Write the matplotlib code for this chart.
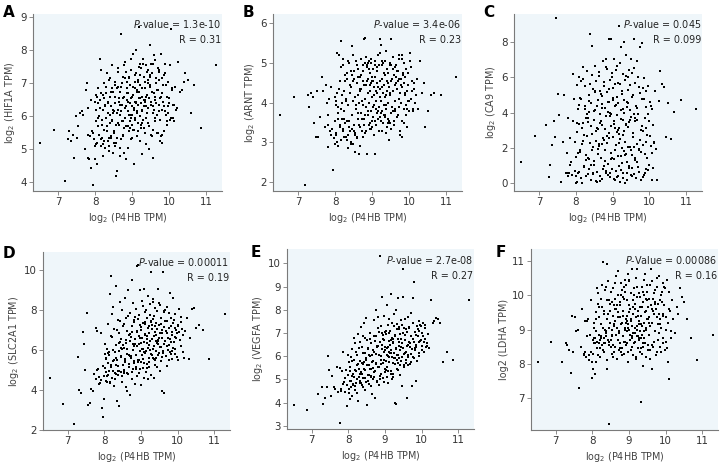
import matplotlib
matplotlib.use("Agg")
import matplotlib.pyplot as plt

# Shared x values: log2(P4HB TPM)
x_p4hb = [
    6.52, 6.88, 7.18, 7.27, 7.30, 7.35, 7.40, 7.44, 7.47, 7.52,
    7.55, 7.60, 7.64, 7.68, 7.72, 7.76, 7.78, 7.80, 7.82, 7.85,
    7.88, 7.90, 7.93, 7.95, 7.97, 7.99, 8.00, 8.01, 8.02, 8.03,
    8.04, 8.05, 8.06, 8.08, 8.09, 8.10, 8.12, 8.13, 8.15, 8.16,
    8.18, 8.19, 8.20, 8.21, 8.23, 8.24, 8.25, 8.27, 8.28, 8.30,
    8.31, 8.32, 8.34, 8.35, 8.36, 8.38, 8.39, 8.40, 8.41, 8.43,
    8.44, 8.45, 8.46, 8.48, 8.49, 8.50, 8.51, 8.53, 8.54, 8.55,
    8.56, 8.58, 8.59, 8.60, 8.61, 8.62, 8.64, 8.65, 8.66, 8.68,
    8.69, 8.70, 8.71, 8.72, 8.74, 8.75, 8.76, 8.77, 8.78, 8.80,
    8.81, 8.82, 8.83, 8.84, 8.85, 8.86, 8.88, 8.89, 8.90, 8.91,
    8.92, 8.93, 8.94, 8.95, 8.96, 8.97, 8.98, 8.99, 9.00, 9.01,
    9.02, 9.03, 9.04, 9.05, 9.06, 9.07, 9.08, 9.09, 9.10, 9.11,
    9.12, 9.13, 9.14, 9.15, 9.16, 9.17, 9.18, 9.19, 9.20, 9.21,
    9.22, 9.23, 9.24, 9.25, 9.26, 9.27, 9.28, 9.29, 9.30, 9.31,
    9.32, 9.33, 9.34, 9.35, 9.36, 9.37, 9.38, 9.39, 9.40, 9.41,
    9.42, 9.43, 9.44, 9.45, 9.46, 9.48, 9.49, 9.50, 9.51, 9.52,
    9.54, 9.55, 9.56, 9.57, 9.58, 9.60, 9.61, 9.62, 9.63, 9.65,
    9.66, 9.67, 9.69, 9.70, 9.72, 9.73, 9.75, 9.76, 9.78, 9.79,
    9.81, 9.82, 9.84, 9.85, 9.87, 9.88, 9.90, 9.92, 9.94, 9.96,
    9.98, 10.00, 10.02, 10.04, 10.06, 10.08, 10.10, 10.12, 10.15, 10.18,
    10.21, 10.25, 10.30, 10.35, 10.40, 10.44, 10.50, 10.58, 10.68, 10.85,
    11.28,
    8.105, 8.125, 8.145, 8.165, 8.185, 8.205, 8.225, 8.245, 8.265, 8.285,
    8.305, 8.325, 8.345, 8.365, 8.385, 8.405, 8.425, 8.445, 8.465, 8.485,
    8.505, 8.525, 8.545, 8.565, 8.585, 8.605, 8.625, 8.645, 8.665, 8.685,
    8.705, 8.725, 8.745, 8.765, 8.785, 8.805, 8.825, 8.845, 8.865, 8.885,
    8.895, 8.915, 8.935, 8.955, 8.975, 8.995, 9.005, 9.025, 9.045, 9.065,
    9.075, 9.095, 9.115, 9.135, 9.155, 9.175, 9.185, 9.205, 9.225, 9.245,
    9.255, 9.275, 9.295, 9.315, 9.335, 9.355, 9.365, 9.385, 9.405, 9.425,
    9.435, 9.455, 9.475, 9.495, 9.515, 9.535, 9.555, 9.575, 9.595, 9.615,
    9.635, 9.655, 9.675, 9.695, 9.715, 9.735, 9.755, 9.775, 9.795, 9.815,
    9.835, 9.855, 9.875, 9.895, 9.915, 9.935, 9.955, 9.975, 10.005, 10.035,
    8.005, 8.035, 8.065, 8.085, 7.915, 7.845, 7.795, 10.065, 10.095, 10.135,
    8.32, 8.42, 8.52, 8.62, 8.72, 8.82, 8.92, 9.02, 9.12, 9.22,
    9.32, 9.42, 9.52, 9.62, 9.72, 9.82, 9.92, 8.37, 8.47, 8.57,
    8.67, 8.77, 8.87, 8.97, 9.07, 9.17, 9.27, 9.37, 9.47, 9.57,
]

y_hif1a = [
    5.20, 5.60, 4.05, 5.30, 5.55, 5.25, 5.45, 4.75, 6.00, 5.35,
    5.70, 6.10, 6.15, 6.05, 5.00, 6.80, 7.00, 4.75, 5.45, 5.40,
    4.45, 6.50, 5.50, 3.92, 5.30, 4.70, 6.45, 6.65, 5.15, 5.85,
    6.60, 5.20, 4.55, 6.85, 5.95, 5.45, 7.75, 6.25, 5.10, 6.70,
    5.90, 5.35, 6.20, 5.15, 6.55, 7.00, 5.60, 6.35, 5.05, 6.90,
    5.70, 7.30, 6.10, 5.25, 6.45, 4.95, 5.80, 7.15, 6.60, 5.40,
    6.30, 7.55, 5.90, 4.90, 6.75, 6.15, 5.55, 7.05, 5.10, 6.40,
    4.20, 6.85, 4.35, 5.35, 6.20, 7.45, 5.75, 6.55, 4.80, 6.05,
    8.50, 5.30, 6.90, 6.35, 5.85, 7.20, 5.45, 6.60, 4.90, 7.65,
    6.25, 5.95, 7.35, 5.70, 6.50, 7.05, 5.05, 6.70, 6.15, 5.55,
    7.15, 6.40, 5.85, 6.95, 5.30, 6.55, 7.40, 6.05, 5.75, 6.30,
    6.65, 7.90, 5.60, 6.20, 4.55, 6.85, 5.95, 7.25, 6.45, 8.00,
    6.10, 5.40, 6.75, 7.10, 5.80, 6.35, 8.70, 6.55, 5.25, 7.60,
    6.95, 5.65, 6.40, 7.45, 6.15, 4.85, 6.60, 7.75, 5.90, 6.50,
    6.30, 7.20, 5.50, 6.85, 6.45, 7.55, 5.15, 6.10, 7.35, 6.65,
    5.80, 6.25, 7.00, 5.00, 6.55, 8.15, 6.95, 6.35, 5.45, 7.60,
    6.75, 7.30, 5.60, 4.75, 6.20, 7.85, 6.50, 7.70, 5.95, 7.15,
    6.05, 6.80, 7.45, 5.50, 6.35, 7.10, 5.90, 6.55, 5.40, 7.90,
    6.70, 5.20, 6.45, 7.25, 5.55, 7.60, 6.15, 6.95, 5.85, 6.30,
    6.10, 6.55, 7.55, 5.95, 8.65, 6.85, 6.35, 5.85, 6.90, 6.20,
    6.25, 7.65, 6.75, 6.80, 7.05, 7.30, 7.10, 6.10, 6.95, 5.65,
    7.55,
    6.00, 6.50, 5.30, 7.40, 5.75, 6.65, 4.80, 5.25, 6.30, 5.95,
    6.70, 5.55, 6.40, 5.10, 7.10, 6.05, 5.35, 6.85, 5.85, 6.20,
    5.50, 6.60, 6.95, 5.20, 6.10, 7.35, 5.80, 6.45, 5.05, 6.75,
    6.15, 7.00, 5.40, 6.55, 7.55, 5.95, 6.30, 4.70, 6.85, 5.70,
    6.45, 7.20, 5.65, 6.05, 7.75, 6.60, 5.35, 6.90, 6.25, 7.05,
    5.90, 6.40, 7.30, 6.15, 5.55, 6.75, 7.50, 6.00, 6.55, 5.75,
    6.85, 6.20, 7.60, 5.65, 6.50, 7.05, 6.30, 5.95, 6.65, 7.40,
    6.25, 5.70, 6.90, 7.25, 6.45, 5.40, 7.60, 6.10, 6.70, 5.85,
    7.00, 6.40, 5.50, 6.80, 7.40, 6.15, 5.25, 6.60, 7.15, 5.45,
    6.95, 6.30, 5.55, 7.30, 6.05, 5.75, 6.60, 7.05, 6.40, 5.90,
    5.10, 6.20, 5.70, 6.40, 5.55, 4.70, 6.25, 6.80, 5.95, 6.35,
    5.55, 6.75, 5.20, 6.90, 5.85, 7.15, 6.05, 5.60, 6.80, 7.25,
    6.50, 7.10, 5.45, 6.60, 7.35, 6.20, 6.95, 5.35, 6.10, 5.75,
    6.35, 5.65, 6.70, 5.95, 6.45, 7.05, 5.80, 6.60, 7.20, 6.30,
]

y_arnt = [
    3.70, 4.15, 1.92, 4.20, 3.90, 4.25, 4.15, 3.50, 3.15, 4.30,
    3.15, 3.65, 4.65, 4.30, 3.40, 4.45, 4.00, 2.88, 3.70, 3.30,
    3.20, 4.40, 2.32, 2.30, 3.10, 3.55, 2.95, 3.95, 3.25, 4.05,
    3.00, 4.25, 5.25, 2.92, 3.75, 5.20, 3.45, 4.55, 3.85, 5.55,
    3.60, 4.00, 3.35, 4.95, 3.15, 4.30, 3.80, 4.70, 3.50, 4.10,
    3.05, 4.60, 2.85, 3.95, 5.05, 3.55, 4.25, 3.30, 4.45, 3.00,
    4.40, 3.70, 5.42, 2.95, 4.05, 3.45, 4.80, 3.20, 4.15, 2.75,
    3.85, 4.50, 3.15, 4.95, 3.60, 4.20, 2.72, 4.00, 3.40, 4.65,
    3.75, 4.35, 5.10, 3.30, 4.80, 3.95, 4.55, 3.45, 5.60, 4.10,
    5.62, 3.25, 4.45, 3.90, 4.95, 2.70, 4.25, 3.70, 4.60, 5.05,
    4.00, 3.50, 4.75, 4.30, 3.80, 5.00, 4.50, 3.40, 4.15, 4.55,
    3.65, 4.85, 4.20, 3.95, 4.40, 2.70, 3.55, 4.65, 4.05, 3.85,
    4.50, 3.75, 4.25, 5.20, 3.60, 4.40, 4.95, 3.90, 5.60, 4.15,
    4.35, 3.55, 5.45, 4.05, 3.80, 4.60, 3.30, 4.25, 5.00, 3.70,
    4.45, 3.95, 4.70, 3.65, 4.15, 5.30, 3.85, 4.55, 3.40, 4.30,
    4.00, 4.75, 3.60, 4.40, 3.05, 4.20, 4.95, 5.60, 3.75, 4.55,
    4.60, 3.90, 4.30, 5.15, 3.55, 4.70, 4.05, 3.80, 4.45, 4.65,
    4.35, 4.80, 3.70, 4.55, 4.10, 5.20, 3.20, 4.25, 4.60, 4.00,
    3.15, 4.40, 4.75, 3.85, 4.50, 4.20, 4.65, 3.95, 4.30, 4.05,
    4.45, 3.80, 5.25, 4.10, 4.90, 4.55, 3.85, 4.35, 4.00, 4.20,
    4.60, 3.85, 5.05, 4.25, 4.50, 3.40, 3.80, 4.20, 4.25, 4.20,
    4.65,
    4.35, 3.40, 4.90, 3.05, 4.20, 3.30, 5.10, 3.60, 4.55, 3.15,
    4.05, 4.75, 3.20, 5.00, 3.55, 4.45, 2.95, 4.70, 3.35, 5.20,
    4.60, 3.25, 4.15, 5.05, 3.10, 3.75, 4.85, 3.45, 4.35, 2.90,
    4.70, 3.60, 4.95, 3.15, 4.45, 3.70, 5.15, 3.30, 4.55, 5.00,
    3.80, 4.85, 3.35, 4.45, 5.10, 3.55, 4.65, 3.90, 3.20, 4.95,
    5.05, 3.45, 4.30, 4.80, 3.60, 4.95, 3.30, 4.55, 5.25, 3.75,
    4.40, 4.95, 3.50, 4.75, 3.70, 5.05, 3.95, 3.25, 4.85, 4.50,
    4.75, 3.55, 5.00, 4.25, 3.35, 4.60, 5.15, 3.80, 3.45, 4.90,
    4.50, 4.95, 3.65, 4.80, 3.90, 5.10, 3.30, 4.45, 5.20, 3.55,
    4.70, 5.00, 3.50, 4.25, 4.85, 3.85, 3.40, 4.75, 4.05, 5.05,
    4.15, 3.20, 3.60, 3.90, 3.35, 4.10, 3.45, 4.30, 3.80, 4.50,
    3.55, 4.80, 3.30, 4.65, 4.05, 5.00, 3.45, 4.55, 4.90, 3.65,
    4.75, 3.50, 4.95, 3.85, 4.60, 5.10, 3.70, 3.40, 4.55, 3.95,
    4.30, 3.60, 4.90, 3.35, 4.65, 3.80, 5.05, 4.20, 3.50, 4.85,
]

y_ca9 = [
    1.20, 2.65, 3.30, 0.35, 1.00, 2.15, 3.50, 2.60, 9.40, 5.05,
    3.85, 0.05, 2.35, 5.00, 0.55, 1.70, 3.70, 0.40, 0.55, 2.55,
    1.20, 0.45, 6.20, 4.80, 2.35, 0.70, 0.00, 1.50, 3.40, 5.55,
    0.05, 0.60, 4.20, 6.05, 0.65, 3.35, 1.85, 4.80, 5.80, 2.20,
    0.00, 3.40, 6.60, 0.90, 2.75, 4.35, 5.50, 1.30, 0.40, 3.95,
    6.35, 1.45, 3.70, 0.80, 5.00, 2.25, 8.45, 0.20, 4.55, 1.90,
    7.80, 2.80, 5.35, 0.55, 3.60, 1.25, 6.65, 4.15, 0.10, 2.40,
    5.80, 0.05, 3.05, 4.70, 1.65, 6.10, 2.10, 0.40, 5.20, 3.55,
    1.40, 4.95, 0.25, 3.30, 6.95, 2.55, 0.95, 5.50, 4.25, 1.85,
    7.05, 3.80, 0.60, 5.15, 2.30, 6.50, 1.10, 4.60, 8.20, 2.85,
    0.35, 4.00, 5.85, 1.70, 3.25, 8.20, 0.80, 6.05, 2.60, 4.85,
    5.40, 1.35, 3.50, 7.05, 0.15, 4.40, 2.15, 6.40, 0.70, 3.85,
    2.90, 6.65, 0.40, 4.55, 1.55, 8.90, 3.15, 0.05, 5.60, 2.50,
    4.15, 0.75, 7.70, 2.00, 5.05, 3.60, 0.30, 6.20, 1.80, 4.70,
    8.00, 2.35, 0.00, 5.85, 3.35, 7.30, 1.20, 4.30, 0.55, 6.00,
    3.20, 5.30, 0.85, 6.40, 2.05, 4.15, 0.45, 7.05, 3.75, 1.60,
    6.25, 2.85, 5.00, 0.50, 8.20, 3.55, 1.45, 5.70, 0.30, 4.25,
    2.20, 6.95, 3.95, 0.90, 5.45, 1.85, 7.75, 3.00, 0.20, 4.80,
    7.95, 2.95, 5.95, 0.45, 3.70, 1.65, 4.30, 0.80, 2.75, 5.50,
    3.55, 1.05, 4.60, 2.10, 0.15, 4.20, 0.85, 2.35, 5.25, 1.95,
    0.15, 4.65, 6.35, 5.60, 5.45, 2.60, 4.55, 2.50, 4.05, 4.70,
    4.20,
    1.75, 4.85, 0.30, 3.15, 5.90, 2.40, 0.95, 4.20, 1.60, 3.70,
    2.70, 0.50, 4.65, 1.35, 5.60, 3.25, 0.15, 6.15, 2.05, 4.10,
    1.05, 5.20, 2.95, 0.65, 4.35, 1.95, 6.30, 3.40, 0.10, 5.05,
    4.50, 2.20, 0.80, 5.75, 3.05, 1.25, 6.60, 2.65, 0.45, 4.05,
    2.55, 5.35, 0.60, 3.90, 1.40, 6.25, 4.70, 0.25, 3.35, 5.60,
    1.90, 4.45, 0.35, 3.00, 5.70, 2.25, 0.95, 6.80, 3.65, 1.15,
    5.20, 2.75, 0.60, 4.00, 1.60, 6.10, 3.30, 0.15, 4.60, 2.05,
    0.95, 3.45, 5.55, 1.85, 4.90, 0.40, 2.60, 6.55, 3.95, 1.30,
    4.35, 1.20, 3.60, 6.05, 0.65, 2.45, 5.10, 1.75, 3.25, 0.35,
    2.15, 4.75, 0.55, 3.10, 5.20, 1.45, 3.90, 0.75, 2.65, 4.40,
    0.40, 2.90, 1.70, 4.45, 3.55, 1.05, 0.60, 1.70, 3.30, 2.25,
    3.45, 1.05, 5.15, 2.20, 4.25, 0.70, 3.80, 2.60, 4.90, 1.55,
    2.95, 4.55, 0.85, 3.70, 1.95, 5.40, 2.35, 4.05, 0.50, 3.15,
    3.90, 2.45, 4.60, 1.35, 3.15, 2.80, 4.20, 1.65, 3.60, 2.05,
]

y_slc2a1 = [
    4.60, 3.30, 2.30, 5.65, 4.00, 3.85, 6.90, 6.30, 5.00, 7.85,
    3.25, 3.35, 4.05, 3.95, 4.80, 7.10, 4.55, 6.95, 5.05, 4.65,
    4.35, 6.85, 3.10, 2.65, 5.20, 3.55, 4.70, 6.30, 5.80, 4.45,
    5.60, 4.90, 6.05, 4.40, 5.35, 7.30, 4.95, 5.75, 8.80, 4.35,
    9.70, 5.15, 6.65, 4.60, 8.15, 5.45, 4.20, 7.05, 5.90, 4.85,
    6.25, 9.20, 5.50, 3.45, 7.50, 4.75, 6.85, 3.20, 5.95, 8.40,
    4.90, 6.55, 5.70, 8.00, 4.40, 7.20, 5.25, 6.10, 4.95, 8.60,
    5.40, 4.15, 7.60, 6.35, 3.95, 5.80, 9.00, 4.80, 6.75, 5.15,
    6.45, 3.75, 7.85, 5.60, 9.50, 4.55, 6.90, 5.05, 8.35, 6.20,
    5.35, 7.40, 4.30, 6.55, 8.05, 5.75, 10.20, 4.70, 6.95, 5.50,
    10.25, 6.30, 4.85, 7.75, 5.95, 9.00, 6.60, 4.25, 7.15, 5.40,
    6.05, 8.45, 5.10, 7.35, 5.55, 9.05, 6.40, 4.60, 7.90, 6.75,
    5.85, 8.00, 4.90, 6.35, 7.60, 5.30, 8.70, 6.10, 4.55, 7.20,
    6.85, 5.40, 8.30, 6.00, 7.45, 4.75, 9.90, 6.55, 5.75, 7.05,
    5.60, 8.55, 6.20, 7.70, 4.60, 6.90, 5.25, 8.10, 6.45, 7.35,
    6.75, 5.15, 7.95, 6.30, 9.05, 5.85, 7.25, 6.60, 4.95, 8.25,
    6.15, 7.60, 5.65, 3.95, 6.85, 9.90, 5.95, 3.85, 7.15, 6.45,
    8.00, 5.70, 6.95, 7.45, 5.20, 6.60, 7.85, 6.25, 8.85, 5.90,
    6.40, 7.20, 5.55, 6.90, 8.60, 6.10, 7.50, 5.80, 6.65, 7.00,
    6.85, 7.25, 5.50, 8.05, 6.50, 7.65, 6.20, 7.05, 6.75, 5.60,
    6.95, 7.60, 5.55, 6.60, 8.05, 8.10, 7.10, 7.25, 7.00, 5.55,
    7.80,
    4.75, 5.90, 4.40, 6.70, 5.25, 7.80, 4.95, 6.00, 5.50, 4.55,
    5.60, 4.80, 7.00, 5.20, 6.35, 4.95, 7.45, 5.65, 6.10, 4.70,
    6.25, 5.00, 7.30, 5.55, 6.50, 4.85, 6.05, 7.70, 5.30, 6.80,
    5.70, 6.65, 4.90, 7.20, 6.00, 5.45, 7.65, 6.30, 5.15, 6.90,
    6.20, 7.55, 5.50, 6.70, 5.05, 7.00, 6.35, 5.75, 8.20, 6.05,
    5.35, 6.80, 7.40, 5.95, 6.55, 5.10, 7.10, 6.25, 5.60, 7.75,
    6.45, 5.80, 7.25, 6.05, 8.40, 5.55, 6.70, 7.20, 5.95, 6.35,
    7.05, 5.75, 6.50, 8.35, 6.15, 5.45, 7.30, 6.60, 5.85, 7.90,
    6.30, 7.45, 5.70, 6.85, 8.15, 6.00, 7.10, 5.50, 6.55, 7.60,
    6.75, 5.95, 7.35, 6.40, 6.05, 7.80, 6.60, 5.65, 7.20, 6.90,
    5.10, 5.55, 4.70, 5.85, 4.50, 4.30, 5.00, 6.50, 7.40, 5.90,
    5.25, 6.40, 4.85, 6.95, 5.70, 7.50, 5.40, 6.60, 7.30, 5.15,
    7.55, 5.60, 6.85, 7.95, 6.20, 5.80, 7.10, 4.95, 6.05, 5.45,
    5.75, 6.30, 5.05, 7.25, 5.90, 6.70, 7.40, 5.50, 6.45, 7.00,
]

y_vegfa = [
    3.90, 3.70, 4.35, 4.65, 3.95, 4.20, 4.65, 6.00, 5.40, 4.30,
    5.15, 4.65, 4.60, 5.55, 4.45, 3.10, 5.50, 4.60, 5.35, 6.20,
    4.90, 4.45, 5.40, 3.85, 4.75, 5.20, 6.05, 4.40, 5.75, 4.15,
    4.95, 5.55, 4.65, 5.95, 4.30, 6.30, 5.25, 4.80, 6.80, 5.10,
    4.70, 6.55, 5.35, 4.85, 6.05, 5.60, 4.05, 6.95, 5.10, 5.45,
    5.80, 4.95, 7.25, 5.30, 6.40, 4.75, 5.65, 6.85, 5.05, 7.45,
    5.40, 6.15, 4.55, 7.65, 5.85, 6.70, 3.90, 5.20, 6.35, 5.60,
    4.80, 6.00, 5.45, 7.00, 5.15, 6.55, 4.35, 5.75, 6.25, 5.00,
    6.85, 5.30, 7.55, 4.20, 6.10, 8.00, 5.65, 4.95, 6.45, 7.20,
    5.55, 7.70, 6.05, 4.75, 6.60, 10.30, 5.25, 7.30, 5.85, 6.30,
    8.55, 5.05, 6.75, 5.70, 7.75, 6.20, 4.90, 7.05, 6.40, 5.45,
    6.95, 5.80, 8.20, 6.35, 5.10, 7.35, 6.00, 4.85, 6.65, 7.60,
    5.95, 7.10, 6.50, 5.35, 8.70, 6.25, 5.00, 7.45, 6.80, 5.70,
    6.60, 5.25, 7.80, 6.15, 4.00, 6.90, 5.65, 8.00, 6.35, 3.95,
    7.40, 6.05, 5.40, 6.75, 8.50, 5.90, 6.45, 7.15, 5.60, 6.95,
    6.25, 7.55, 5.80, 6.55, 4.70, 8.55, 9.75, 7.00, 6.10, 5.55,
    6.70, 7.60, 6.20, 5.85, 7.15, 4.20, 6.45, 7.70, 5.95, 6.60,
    7.25, 5.65, 6.40, 7.85, 6.10, 4.70, 6.75, 8.50, 5.90, 9.20,
    6.35, 7.05, 4.95, 6.50, 7.30, 5.80, 6.85, 6.15, 7.50, 6.65,
    7.30, 6.45, 7.00, 7.45, 6.20, 6.75, 7.20, 6.40, 6.55, 6.95,
    6.35, 8.40, 7.45, 7.50, 7.65, 7.60, 7.45, 5.75, 6.20, 5.85,
    8.40,
    5.15, 4.75, 5.85, 5.40, 4.55, 6.20, 5.00, 4.40, 5.65, 6.35,
    5.25, 6.60, 4.85, 5.70, 6.15, 4.65, 5.45, 6.80, 5.05, 5.90,
    5.60, 4.95, 6.30, 5.20, 6.75, 5.45, 4.70, 6.05, 5.80, 5.10,
    6.20, 5.35, 6.85, 5.70, 4.90, 6.45, 5.55, 7.05, 5.15, 6.00,
    5.65, 6.50, 5.05, 6.90, 5.85, 6.25, 5.30, 7.10, 6.05, 5.55,
    6.40, 5.75, 7.00, 6.15, 5.25, 6.70, 5.95, 5.10, 6.55, 7.30,
    5.90, 6.85, 6.30, 5.45, 7.15, 6.05, 5.70, 6.60, 5.20, 6.40,
    6.75, 5.95, 7.35, 6.35, 5.60, 6.90, 6.15, 5.85, 7.05, 6.50,
    6.05, 7.20, 6.55, 5.75, 6.85, 6.30, 7.45, 5.95, 6.60, 6.25,
    6.90, 6.40, 5.80, 7.15, 6.60, 6.00, 7.35, 6.70, 6.25, 6.85,
    4.60, 5.35, 4.95, 5.80, 5.05, 4.80, 4.50, 6.60, 7.35, 6.45,
    4.85, 5.75, 6.30, 5.10, 6.65, 5.55, 7.00, 5.40, 6.20, 6.75,
    5.85, 6.95, 7.20, 5.60, 6.85, 6.35, 7.10, 5.25, 4.90, 6.05,
    5.50, 6.40, 5.00, 6.70, 5.35, 6.15, 5.90, 7.25, 6.55, 5.70,
]

y_ldha = [
    8.05, 8.65, 8.05, 8.60, 8.55, 8.40, 7.75, 9.40, 8.35, 9.35,
    8.95, 9.00, 7.30, 8.50, 9.60, 8.30, 8.25, 9.25, 8.20, 8.80,
    9.30, 8.10, 8.85, 8.35, 9.85, 8.05, 7.60, 8.70, 7.85, 9.05,
    8.60, 9.20, 7.70, 8.75, 8.95, 9.50, 10.20, 8.65, 8.25, 9.75,
    8.85, 9.35, 8.70, 8.45, 9.15, 8.80, 9.65, 8.55, 10.95, 9.05,
    8.75, 9.45, 9.00, 8.60, 10.25, 8.90, 7.85, 9.30, 10.90, 8.70,
    6.25, 9.85, 8.65, 9.20, 9.55, 8.50, 10.10, 9.00, 8.80, 9.40,
    8.55, 9.70, 9.10, 8.35, 9.25, 10.35, 8.85, 9.60, 8.15, 9.05,
    9.50, 8.70, 10.70, 8.95, 9.35, 9.80, 8.60, 9.15, 10.00, 8.45,
    9.20, 10.15, 8.80, 9.55, 8.30, 9.90, 9.05, 10.45, 8.65, 9.30,
    10.30, 8.95, 9.40, 8.60, 10.60, 9.15, 8.05, 9.70, 9.00, 10.40,
    8.85, 9.60, 10.05, 8.40, 9.25, 10.75, 9.10, 8.75, 9.85, 8.25,
    9.45, 8.60, 10.20, 9.05, 8.90, 9.75, 8.15, 9.35, 10.50, 8.80,
    9.00, 10.75, 8.45, 9.55, 8.70, 9.25, 10.05, 8.95, 9.65, 8.35,
    6.90, 9.40, 10.25, 8.85, 9.10, 7.95, 9.80, 8.60, 10.45, 9.20,
    8.75, 9.50, 10.60, 9.00, 8.20, 9.85, 9.30, 10.10, 8.55, 9.65,
    9.35, 8.85, 10.30, 9.10, 8.40, 9.70, 10.75, 7.85, 9.20, 9.55,
    9.90, 8.65, 9.45, 10.15, 8.95, 9.60, 8.35, 10.50, 9.15, 9.75,
    8.90, 10.55, 9.30, 8.50, 10.00, 9.05, 9.80, 8.75, 9.45, 10.25,
    8.40, 9.35, 8.65, 10.45, 8.05, 10.10, 7.55, 9.55, 8.95, 9.85,
    9.30, 8.90, 9.65, 9.45, 10.20, 9.95, 9.80, 9.30, 8.75, 8.10,
    8.85,
    9.30, 8.45, 10.05, 8.60, 9.65, 8.20, 9.90, 8.75, 10.30, 8.40,
    9.55, 8.35, 10.15, 8.80, 9.85, 8.10, 10.40, 9.05, 8.55, 9.75,
    8.70, 9.80, 8.30, 10.20, 9.15, 8.50, 9.60, 10.55, 8.15, 9.35,
    10.00, 8.90, 8.45, 9.70, 10.35, 8.25, 9.40, 9.95, 8.65, 10.10,
    9.00, 8.55, 9.85, 9.25, 8.35, 9.50, 10.45, 8.70, 9.30, 10.05,
    8.50, 9.45, 8.90, 10.00, 8.65, 9.75, 8.20, 9.10, 10.25, 8.80,
    9.40, 8.75, 9.95, 8.45, 9.15, 9.65, 8.30, 10.10, 8.95, 9.50,
    8.60, 9.55, 9.05, 10.30, 8.40, 9.90, 9.20, 8.15, 9.70, 10.40,
    9.60, 8.50, 10.05, 8.95, 9.80, 8.25, 10.25, 9.35, 8.70, 9.45,
    9.85, 9.15, 8.35, 10.10, 9.40, 8.60, 9.70, 10.20, 9.00, 8.45,
    8.30, 8.75, 8.60, 8.05, 8.25, 9.25, 8.35, 9.20, 9.60, 8.75,
    8.60, 9.45, 8.85, 9.90, 8.40, 10.15, 9.20, 8.70, 9.65, 9.95,
    8.75, 10.00, 9.30, 8.55, 9.75, 8.90, 10.35, 8.95, 9.55, 8.20,
    9.70, 8.35, 10.25, 9.05, 8.80, 9.60, 9.15, 8.50, 9.90, 10.30,
]

panel_letters = ["A", "B", "C", "D", "E", "F"]
y_labels = [r"log$_2$ (HIF1A TPM)", r"log$_2$ (ARNT TPM)", r"log$_2$ (CA9 TPM)",
            r"log$_2$ (SLC2A1 TPM)", r"log$_2$ (VEGFA TPM)", "log2 (LDHA TPM)"]
p_labels = [r"$P$-value = 1.3e-10", r"$P$-value = 3.4e-06", r"$P$-value = 0.045",
            r"$P$-value = 0.00011", r"$P$-value = 2.7e-08", r"$P$-Value = 0.00086"]
r_labels = ["R = 0.31", "R = 0.23", "R = 0.099", "R = 0.19", "R = 0.27", "R = 0.16"]
y_ticks = [[4, 5, 6, 7, 8, 9], [2, 3, 4, 5, 6], [0, 2, 4, 6, 8],
           [2, 4, 6, 8, 10], [3, 4, 5, 6, 7, 8, 9, 10], [7, 8, 9, 10, 11]]
y_limits = [(3.74, 9.10), (1.78, 6.23), (-0.45, 9.6), (1.98, 10.9), (2.86, 10.62), (6.08, 11.34)]
x_ticks = [7, 8, 9, 10, 11]
x_label = r"log$_2$ (P4HB TPM)"
y_series = [y_hif1a, y_arnt, y_ca9, y_slc2a1, y_vegfa, y_ldha]

W, H = 728, 468
boxes = [(33, 14, 222, 191), (273, 14, 462, 191), (514, 14, 702, 191),
         (43, 252, 230, 430), (287, 249, 474, 429), (531, 249, 718, 430)]
letter_pos = [(3, 5), (243, 5), (483, 5), (3, 246), (251, 245), (496, 245)]

plt.rcParams["font.family"] = "DejaVu Sans"
plt.rcParams["mathtext.fontset"] = "dejavusans"
fig = plt.figure(figsize=(W / 100, H / 100), dpi=100)
fig.patch.set_facecolor("white")

for i in range(6):
    l, t, r, b = boxes[i]
    ax = fig.add_axes([l / W, 1 - b / H, (r - l) / W, (b - t) / H])
    ax.set_facecolor("#eff6fa")
    ax.scatter(x_p4hb, y_series[i], s=2.6, c="black", marker="s", linewidths=0)
    ax.set_xlim(6.32, 11.43)
    ax.set_ylim(*y_limits[i])
    ax.set_xticks(x_ticks)
    ax.set_yticks(y_ticks[i])
    for side in ["top", "right"]:
        ax.spines[side].set_visible(False)
    for side in ["left", "bottom"]:
        ax.spines[side].set_color("#7a7a7a")
        ax.spines[side].set_linewidth(0.8)
    ax.tick_params(axis="both", length=3, width=0.6, color="#7a7a7a",
                   labelsize=7.4, labelcolor="#333333", pad=1.5)
    ax.set_xlabel(x_label, fontsize=6.9, color="#444444", labelpad=2.5)
    ax.set_ylabel(y_labels[i], fontsize=6.9, color="#444444", labelpad=2)
    ax.text(0.995, 0.975, p_labels[i], transform=ax.transAxes, ha="right", va="top",
            fontsize=6.9, color="#222222")
    ax.text(0.995, 0.88, r_labels[i], transform=ax.transAxes, ha="right", va="top",
            fontsize=6.9, color="#222222")
    lx, ly = letter_pos[i]
    fig.text(lx / W, 1 - ly / H, panel_letters[i], fontsize=11,
             fontweight="bold", ha="left", va="top")

fig.savefig("out.png", dpi=100)
